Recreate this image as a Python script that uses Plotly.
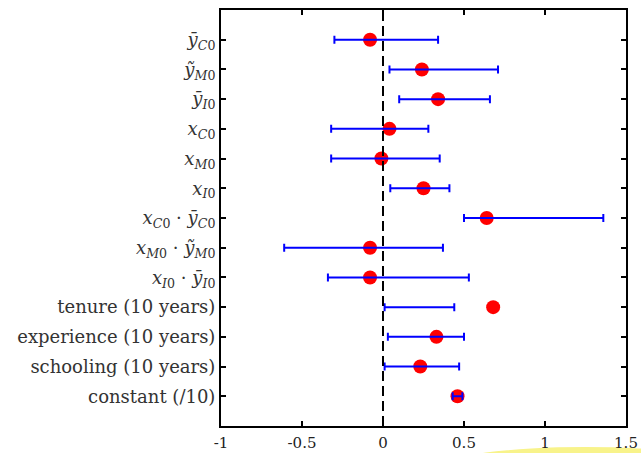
import plotly.graph_objects as go

# Coefficient labels (HTML-styled math), top to bottom
labels = [
    "<i>ȳ</i><sub><i>C</i>0</sub>",
    "<i>ỹ</i><sub><i>M</i>0</sub>",
    "<i>ȳ</i><sub><i>I</i>0</sub>",
    "<i>x</i><sub><i>C</i>0</sub>",
    "<i>x</i><sub><i>M</i>0</sub>",
    "<i>x</i><sub><i>I</i>0</sub>",
    "<i>x</i><sub><i>C</i>0</sub> · <i>ȳ</i><sub><i>C</i>0</sub>",
    "<i>x</i><sub><i>M</i>0</sub> · <i>ỹ</i><sub><i>M</i>0</sub>",
    "<i>x</i><sub><i>I</i>0</sub> · <i>ȳ</i><sub><i>I</i>0</sub>",
    "tenure (10 years)",
    "experience (10 years)",
    "schooling (10 years)",
    "constant (/10)",
]

# Point estimates (red dots)
estimates = [-0.08, 0.24, 0.34, 0.04, -0.01, 0.25, 0.64, -0.08, -0.08, 0.68, 0.33, 0.23, 0.46]

# Interval bounds (blue bars)
lower = [-0.30, 0.04, 0.10, -0.32, -0.32, 0.045, 0.50, -0.61, -0.34, 0.01, 0.03, 0.01, 0.43]
upper = [0.34, 0.71, 0.66, 0.28, 0.35, 0.41, 1.36, 0.37, 0.53, 0.44, 0.50, 0.47, 0.49]

x_ticks = [-1, -0.5, 0, 0.5, 1, 1.5]
x_ticktext = ["-1", "-0.5", "0", "0.5", "1", "1.5"]

rows = list(range(1, len(labels) + 1))
mid = [(lo + hi) / 2 for lo, hi in zip(lower, upper)]
half = [(hi - lo) / 2 for lo, hi in zip(lower, upper)]

font_family = "DejaVu Serif, Liberation Serif, serif"

fig = go.Figure()

# Point estimates
fig.add_trace(go.Scatter(
    x=estimates, y=rows, mode="markers",
    marker=dict(size=14, color="#ff0000", line=dict(width=0)),
    showlegend=False,
))

# Intervals: invisible centre marker with symmetric horizontal error bars
fig.add_trace(go.Scatter(
    x=mid, y=rows, mode="markers",
    marker=dict(size=1, color="rgba(0,0,0,0)"),
    error_x=dict(type="data", array=half, symmetric=True,
                 color="#0000ff", thickness=2, width=4),
    showlegend=False, hoverinfo="skip",
))

# Vertical reference line at zero
fig.add_shape(type="line", xref="x", yref="paper", x0=0, x1=0, y0=0, y1=1,
              line=dict(color="black", width=2, dash="10px,5px"), layer="above")

# Pale highlight at the lower edge
fig.add_shape(type="circle", xref="paper", yref="paper",
              x0=0.553, x1=1.244, y0=-0.142, y1=-0.0505,
              fillcolor="#f8f38a", line=dict(width=0), layer="below")

axis_common = dict(
    showline=True, linecolor="black", linewidth=2, mirror="allticks",
    ticks="inside", ticklen=5, tickwidth=1.5, tickcolor="black",
    showgrid=False, zeroline=False, automargin=False,
)

fig.update_xaxes(range=[-1, 1.5], tickvals=x_ticks, ticktext=x_ticktext,
                 tickfont=dict(family=font_family, size=15, color="#222222"),
                 ticklabelstandoff=2, **axis_common)
fig.update_yaxes(range=[14, 0], tickvals=rows, ticktext=labels,
                 tickfont=dict(family=font_family, size=18, color="#333333"),
                 **axis_common)

fig.update_layout(
    width=641, height=453,
    margin=dict(l=221, r=15, t=10, b=27, pad=0),
    plot_bgcolor="white", paper_bgcolor="white",
    font=dict(family=font_family),
)

fig.write_html("out.html")
